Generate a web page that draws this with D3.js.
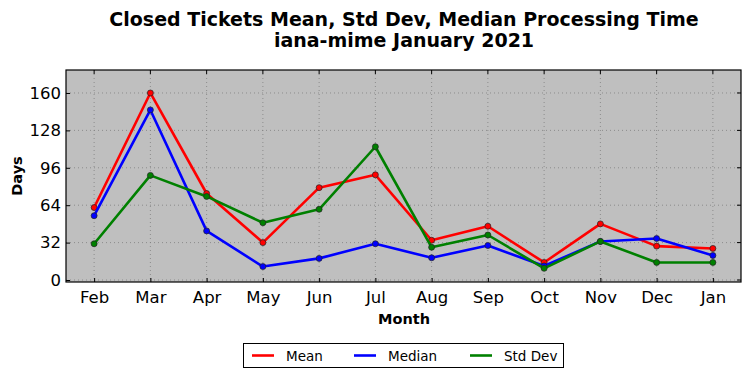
<!DOCTYPE html>
<html><head><meta charset="utf-8">
<script src="https://cdn.jsdelivr.net/npm/d3@7"></script>
<style>body{margin:0;background:#fff;} text{font-family:"DejaVu Sans",sans-serif;}</style>
</head><body>
<script>
const months = ["Feb","Mar","Apr","May","Jun","Jul","Aug","Sep","Oct","Nov","Dec","Jan"];
const meanVals = [62, 160, 74, 32, 79, 90, 34, 46, 15, 48, 29, 27];
const medianVals = [55, 145.5, 42, 11.5, 18.5, 31, 19, 29.5, 12, 33, 35.5, 21];
const stdVals = [31, 89.5, 71.5, 49, 60.5, 114, 28, 38.5, 10, 33, 15, 15];
const yTicks = [0, 32, 64, 96, 128, 160];
const seriesNames = ["Mean","Median","Std Dev"];
const seriesColors = ["#ff0000","#0000ff","#008000"];

const W = 751, H = 378;
const L = 66, R = 741, T = 70, B = 282;
const svg = d3.select("body").append("svg").attr("width", W).attr("height", H);

const x = d3.scaleLinear().domain([-0.5, months.length - 0.5]).range([L, R]);
const y = d3.scaleLinear().domain([0, 180]).range([280, 69.6]);

svg.append("rect").attr("x", L).attr("y", T).attr("width", R - L).attr("height", B - T).attr("fill", "#bfbfbf");

// grid
const g = svg.append("g");
g.selectAll(".vg").data(months).enter().append("line")
  .attr("x1", (d,i)=>x(i)).attr("x2",(d,i)=>x(i)).attr("y1",T).attr("y2",B)
  .attr("stroke","#7f7f7f").attr("stroke-width",0.8).attr("stroke-dasharray","1,3");
g.selectAll(".hg").data(yTicks).enter().append("line")
  .attr("x1",L).attr("x2",R).attr("y1",d=>y(d)).attr("y2",d=>y(d))
  .attr("stroke","#7f7f7f").attr("stroke-width",0.8).attr("stroke-dasharray","1,3");

// axes
const xAxis = d3.axisBottom(x).tickValues(d3.range(months.length)).tickFormat(i=>months[i]).tickSizeInner(-4).tickSizeOuter(0).tickPadding(9);
const xa = svg.append("g").attr("transform",`translate(0,${B})`).call(xAxis);
xa.select(".domain").remove();
xa.selectAll("text").attr("font-size","16.5px").attr("fill","#000").attr("font-family","DejaVu Sans");
const yAxis = d3.axisLeft(y).tickValues(yTicks).tickSizeInner(-4).tickSizeOuter(0).tickPadding(5);
const ya = svg.append("g").attr("transform",`translate(${L},0)`).call(yAxis);
ya.select(".domain").remove();
ya.selectAll("text").attr("font-size","16.5px").attr("fill","#000").attr("font-family","DejaVu Sans");
// right/top ticks
svg.append("g").selectAll("line").data(yTicks).enter().append("line")
  .attr("x1",R).attr("x2",R-4).attr("y1",d=>y(d)).attr("y2",d=>y(d)).attr("stroke","#000");
svg.append("g").selectAll("line").data(months).enter().append("line")
  .attr("x1",(d,i)=>x(i)).attr("x2",(d,i)=>x(i)).attr("y1",T).attr("y2",T+4).attr("stroke","#000");

const allSeries = [meanVals, medianVals, stdVals];
const line = d3.line().x((d,i)=>x(i)).y(d=>y(d));
allSeries.forEach((vals, k) => {
  svg.append("path").datum(vals).attr("d", line).attr("fill","none")
    .attr("stroke", seriesColors[k]).attr("stroke-width", 2.6).attr("stroke-linejoin","round");
  svg.append("g").selectAll("circle").data(vals).enter().append("circle")
    .attr("cx",(d,i)=>x(i)).attr("cy",d=>y(d)).attr("r",3)
    .attr("fill", seriesColors[k]).attr("stroke","#222").attr("stroke-width",0.7);
});

svg.append("rect").attr("x", L).attr("y", T).attr("width", R - L).attr("height", B - T)
  .attr("fill","none").attr("stroke","#000").attr("stroke-width",1.2);

// titles
svg.append("text").attr("x",404).attr("y",25.5).attr("text-anchor","middle").attr("font-size","19px").attr("font-weight","bold")
  .text("Closed Tickets Mean, Std Dev, Median Processing Time");
svg.append("text").attr("x",404).attr("y",47).attr("text-anchor","middle").attr("font-size","19px").attr("font-weight","bold")
  .text("iana-mime January 2021");
svg.append("text").attr("x",404).attr("y",324).attr("text-anchor","middle").attr("font-size","14.5px").attr("font-weight","bold").text("Month");
svg.append("text").attr("transform","translate(22,176) rotate(-90)").attr("text-anchor","middle").attr("font-size","14.5px").attr("font-weight","bold").text("Days");

// legend
const lg = svg.append("g");
lg.append("rect").attr("x",243.5).attr("y",343.5).attr("width",320).attr("height",24).attr("fill","#fff").attr("stroke","#000").attr("stroke-width",1);
const lx = [252, 354, 470];
seriesNames.forEach((n,k)=>{
  lg.append("line").attr("x1",lx[k]).attr("x2",lx[k]+22).attr("y1",355.5).attr("y2",355.5).attr("stroke",seriesColors[k]).attr("stroke-width",2.6);
  lg.append("text").attr("x",lx[k]+34).attr("y",360.5).attr("font-size","13.5px").text(n);
});
</script>
</body></html>
